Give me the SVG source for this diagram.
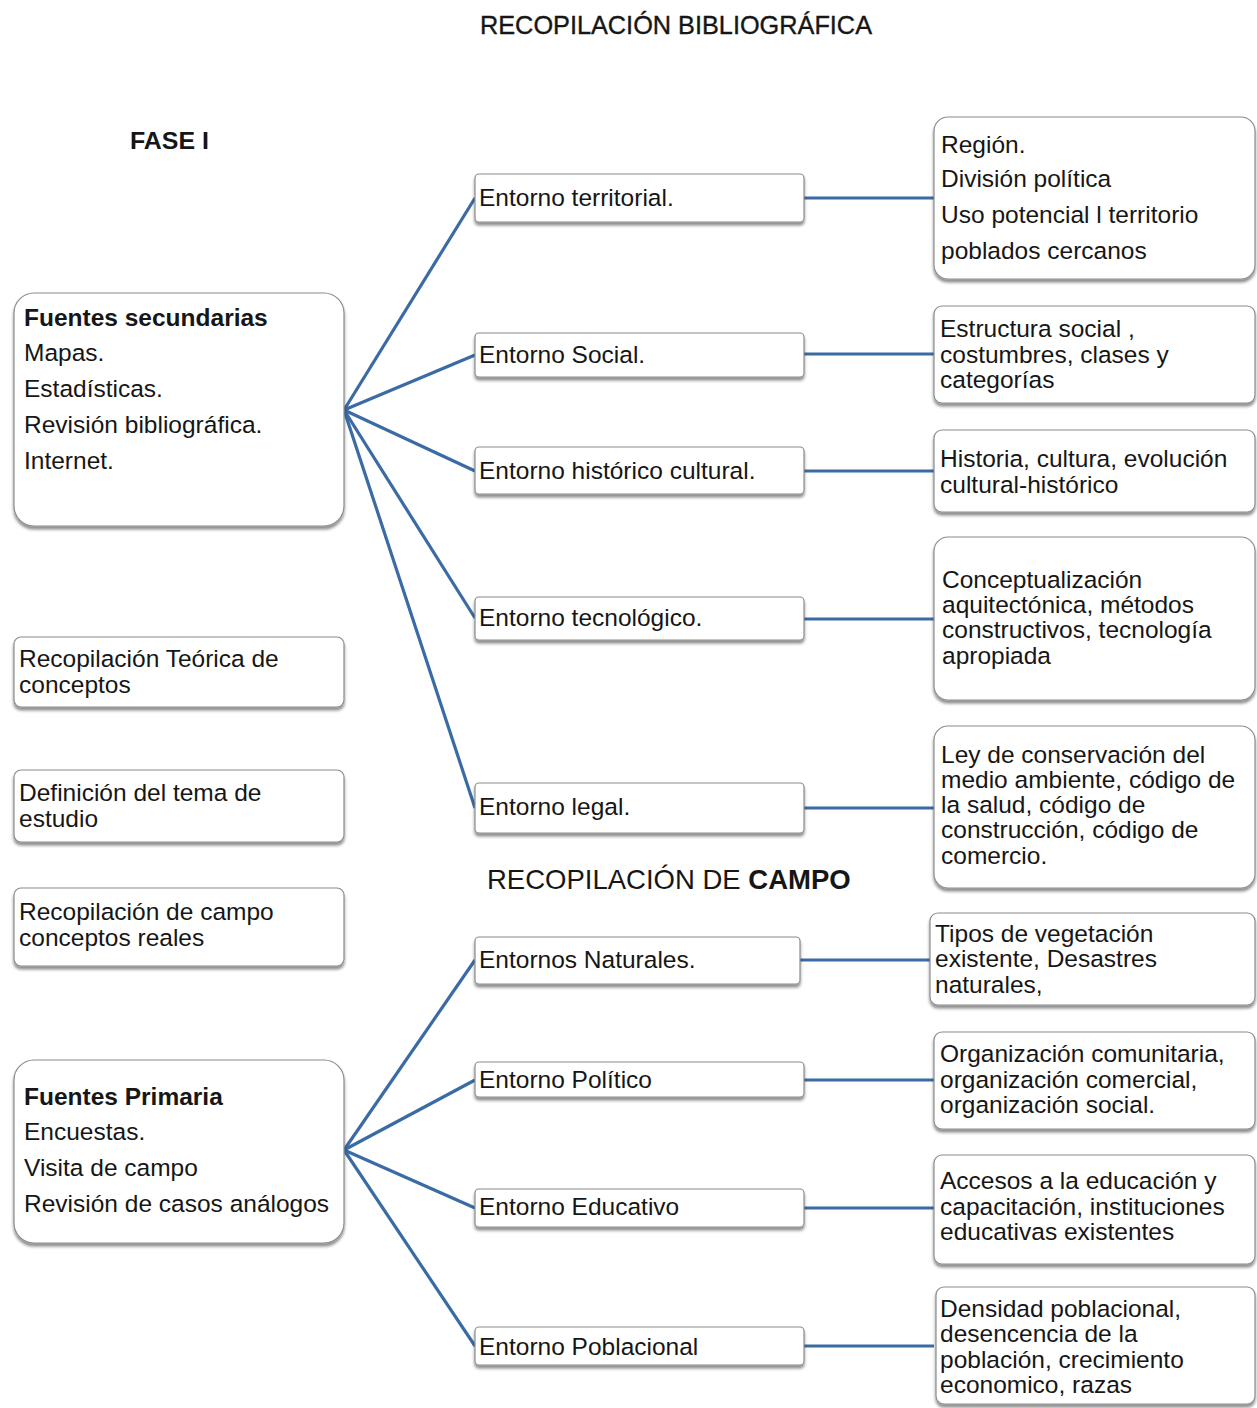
<svg xmlns="http://www.w3.org/2000/svg" width="1257" height="1408" viewBox="0 0 1257 1408">
<defs>
<filter id="sh" x="-5%" y="-10%" width="110%" height="130%">
<feDropShadow dx="0" dy="3" stdDeviation="1.8" flood-color="#000" flood-opacity="0.45"/>
</filter>
<style>
.box{fill:#fff;stroke:#8c8c8c;stroke-width:1.2;filter:url(#sh)}
text{font-family:"Liberation Sans",Arial,sans-serif;font-size:24.5px;fill:#161616}
.b{font-weight:bold}
.h{font-size:25px;stroke:#161616;stroke-width:0.35}
.conn line{stroke:#3b6ba5;stroke-width:3.2;fill:none}
</style>
</defs>
<rect width="1257" height="1408" fill="#fff"/>

<text class="h" x="480" y="34" textLength="392" lengthAdjust="spacingAndGlyphs">RECOPILACIÓN BIBLIOGRÁFICA</text>
<text class="b" x="130" y="149" style="font-size:23px" textLength="79" lengthAdjust="spacingAndGlyphs">FASE I</text>
<text x="487" y="889" style="font-size:27.5px">RECOPILACIÓN DE <tspan class="b">CAMPO</tspan></text>

<g class="conn" id="connectors">
<line x1="344" y1="410" x2="475" y2="198"/>
<line x1="344" y1="410" x2="475" y2="355"/>
<line x1="344" y1="410" x2="475" y2="471"/>
<line x1="344" y1="410" x2="475" y2="618"/>
<line x1="344" y1="410" x2="475" y2="808"/>
<line x1="344" y1="1150" x2="475" y2="960"/>
<line x1="344" y1="1150" x2="475" y2="1080"/>
<line x1="344" y1="1150" x2="475" y2="1208"/>
<line x1="344" y1="1150" x2="475" y2="1346"/>
<line x1="804" y1="198" x2="934" y2="198"/>
<line x1="804" y1="354" x2="934" y2="354"/>
<line x1="804" y1="471" x2="934" y2="471"/>
<line x1="804" y1="619" x2="934" y2="619"/>
<line x1="804" y1="808" x2="934" y2="808"/>
<line x1="800" y1="960" x2="930" y2="960"/>
<line x1="804" y1="1080" x2="934" y2="1080"/>
<line x1="804" y1="1208" x2="934" y2="1208"/>
<line x1="804" y1="1346" x2="934" y2="1346"/>
</g>

<g id="fuentes-secundarias">
<rect class="box" x="14" y="293" width="330" height="233" rx="20"/>
<text class="b" x="24" y="326">Fuentes secundarias</text>
<text x="24" y="361">Mapas.</text>
<text x="24" y="397">Estadísticas.</text>
<text x="24" y="433">Revisión bibliográfica.</text>
<text x="24" y="469">Internet.</text>
</g>
<g id="recopilacion-teorica">
<rect class="box" x="14" y="637" width="330" height="70" rx="7"/>
<text x="19" y="667">Recopilación Teórica de</text>
<text x="19" y="693">conceptos</text>
</g>
<g id="definicion-tema">
<rect class="box" x="14" y="770" width="330" height="72" rx="7"/>
<text x="19" y="801">Definición del tema de</text>
<text x="19" y="827">estudio</text>
</g>
<g id="recopilacion-campo">
<rect class="box" x="14" y="888" width="330" height="78" rx="7"/>
<text x="19" y="920">Recopilación de campo</text>
<text x="19" y="946">conceptos reales</text>
</g>
<g id="fuentes-primaria">
<rect class="box" x="14" y="1060" width="330" height="183" rx="20"/>
<text class="b" x="24" y="1105">Fuentes Primaria</text>
<text x="24" y="1140">Encuestas.</text>
<text x="24" y="1176">Visita de campo</text>
<text x="24" y="1212">Revisión de casos análogos</text>
</g>

<g id="entorno-territorial">
<rect class="box" x="475" y="174" width="329" height="48" rx="4"/>
<text x="479" y="206">Entorno territorial.</text>
</g>
<g id="entorno-social">
<rect class="box" x="475" y="333" width="329" height="44" rx="4"/>
<text x="479" y="363">Entorno Social.</text>
</g>
<g id="entorno-historico">
<rect class="box" x="475" y="447" width="329" height="47" rx="4"/>
<text x="479" y="479">Entorno histórico cultural.</text>
</g>
<g id="entorno-tecnologico">
<rect class="box" x="475" y="597" width="329" height="43" rx="4"/>
<text x="479" y="626">Entorno tecnológico.</text>
</g>
<g id="entorno-legal">
<rect class="box" x="475" y="783" width="329" height="50" rx="4"/>
<text x="479" y="815">Entorno legal.</text>
</g>
<g id="entornos-naturales">
<rect class="box" x="475" y="937" width="325" height="47" rx="4"/>
<text x="479" y="968">Entornos Naturales.</text>
</g>
<g id="entorno-politico">
<rect class="box" x="475" y="1062" width="329" height="35" rx="4"/>
<text x="479" y="1088">Entorno Político</text>
</g>
<g id="entorno-educativo">
<rect class="box" x="475" y="1189" width="329" height="38" rx="4"/>
<text x="479" y="1215">Entorno Educativo</text>
</g>
<g id="entorno-poblacional">
<rect class="box" x="475" y="1327" width="329" height="38" rx="4"/>
<text x="479" y="1355">Entorno Poblacional</text>
</g>

<g id="region">
<rect class="box" x="934" y="117" width="321" height="162" rx="14"/>
<text x="941" y="153">Región.</text>
<text x="941" y="187">División política</text>
<text x="941" y="223">Uso potencial l territorio</text>
<text x="941" y="259">poblados cercanos</text>
</g>
<g id="estructura-social">
<rect class="box" x="934" y="306" width="321" height="97" rx="8"/>
<text x="940" y="337">Estructura social ,</text>
<text x="940" y="363">costumbres, clases y</text>
<text x="940" y="388">categorías</text>
</g>
<g id="historia">
<rect class="box" x="934" y="430" width="321" height="82" rx="8"/>
<text x="940" y="467">Historia, cultura, evolución</text>
<text x="940" y="493">cultural-histórico</text>
</g>
<g id="conceptualizacion">
<rect class="box" x="934" y="537" width="321" height="163" rx="14"/>
<text x="942" y="588">Conceptualización</text>
<text x="942" y="613">aquitectónica, métodos</text>
<text x="942" y="638">constructivos, tecnología</text>
<text x="942" y="664">apropiada</text>
</g>
<g id="ley">
<rect class="box" x="934" y="726" width="321" height="162" rx="14"/>
<text x="941" y="763">Ley de conservación del</text>
<text x="941" y="788">medio ambiente, código de</text>
<text x="941" y="813">la salud, código de</text>
<text x="941" y="838">construcción, código de</text>
<text x="941" y="864">comercio.</text>
</g>
<g id="tipos-vegetacion">
<rect class="box" x="930" y="913" width="325" height="92" rx="8"/>
<text x="935" y="942">Tipos de vegetación</text>
<text x="935" y="967">existente, Desastres</text>
<text x="935" y="993">naturales,</text>
</g>
<g id="organizacion">
<rect class="box" x="934" y="1032" width="321" height="97" rx="8"/>
<text x="940" y="1062">Organización comunitaria,</text>
<text x="940" y="1088">organización comercial,</text>
<text x="940" y="1113">organización social.</text>
</g>
<g id="accesos">
<rect class="box" x="934" y="1155" width="321" height="109" rx="8"/>
<text x="940" y="1189">Accesos a la educación y</text>
<text x="940" y="1215">capacitación, instituciones</text>
<text x="940" y="1240">educativas existentes</text>
</g>
<g id="densidad">
<rect class="box" x="936" y="1287" width="319" height="117" rx="8"/>
<text x="940" y="1317">Densidad poblacional,</text>
<text x="940" y="1342">desencencia de la</text>
<text x="940" y="1368">población, crecimiento</text>
<text x="940" y="1393">economico, razas</text>
</g>
</svg>
